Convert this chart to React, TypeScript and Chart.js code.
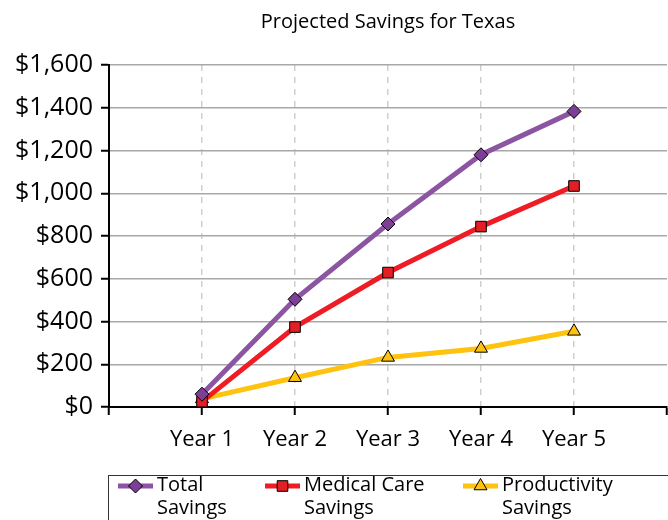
import React, { useEffect, useRef } from 'react';
import { Chart, registerables } from 'chart.js';

Chart.register(...registerables);

const chartTitle = 'Projected Savings for Texas';
const years = ['Year 1', 'Year 2', 'Year 3', 'Year 4', 'Year 5'];
const totalSavings = [60, 504, 856, 1180, 1383];
const medicalSavings = [25, 374, 629, 844, 1034];
const productivitySavings = [38, 137, 232, 274, 354];
const seriesLabels = [
  ['Total', 'Savings'],
  ['Medical Care', 'Savings'],
  ['Productivity', 'Savings'],
];
const yMin = 0;
const yMax = 1600;
const yStep = 200;

const FONT = '"Open Sans", sans-serif';

const categories = ['', ...years, ''];
const pad = (arr: number[]) => [null, ...arr, null];

function drawMarker(ctx: CanvasRenderingContext2D, style: string, x: number, y: number, r: number) {
  ctx.beginPath();
  if (style === 'rectRot') {
    ctx.moveTo(x, y - r);
    ctx.lineTo(x + r, y);
    ctx.lineTo(x, y + r);
    ctx.lineTo(x - r, y);
    ctx.closePath();
  } else if (style === 'rect') {
    const s = r * Math.SQRT1_2;
    ctx.rect(x - s, y - s, 2 * s, 2 * s);
  } else {
    ctx.moveTo(x, y - r);
    ctx.lineTo(x + r * 0.866, y + r * 0.5);
    ctx.lineTo(x - r * 0.866, y + r * 0.5);
    ctx.closePath();
  }
  ctx.fill();
  ctx.stroke();
}

const titlePlugin = {
  id: 'customTitle',
  afterDraw(chart: any) {
    const { ctx, chartArea } = chart;
    ctx.save();
    ctx.font = `20px ${FONT}`;
    ctx.fillStyle = '#000';
    ctx.textAlign = 'center';
    ctx.textBaseline = 'middle';
    ctx.fillText(chartTitle, (chartArea.left + chartArea.right) / 2, 22);
    ctx.restore();
  },
};

const legendPlugin = {
  id: 'customLegend',
  afterDraw(chart: any) {
    const { ctx, chartArea } = chart;
    const boxLeft = chartArea.left - 0.5;
    const boxTop = 475.5;
    ctx.save();
    ctx.strokeStyle = '#333';
    ctx.lineWidth = 1;
    ctx.strokeRect(boxLeft, boxTop, 700, 100);
    const itemX = [118, 265, 463];
    chart.data.datasets.forEach((ds: any, i: number) => {
      const x0 = itemX[i];
      const yLine = 486;
      ctx.strokeStyle = ds.borderColor;
      ctx.lineWidth = 5;
      ctx.beginPath();
      ctx.moveTo(x0, yLine);
      ctx.lineTo(x0 + 35, yLine);
      ctx.stroke();
      ctx.fillStyle = ds.pointBackgroundColor;
      ctx.strokeStyle = '#000';
      ctx.lineWidth = 1;
      drawMarker(ctx, ds.pointStyle, x0 + 17.5, yLine, ds.pointRadius);
      ctx.fillStyle = '#000';
      ctx.font = `20px ${FONT}`;
      ctx.textAlign = 'left';
      ctx.textBaseline = 'middle';
      const lines = seriesLabels[i];
      lines.forEach((t, j) => ctx.fillText(t, x0 + 39, 485 + j * 23));
    });
    ctx.restore();
  },
};

export default function App() {
  const ref = useRef<HTMLCanvasElement>(null);
  useEffect(() => {
    if (!ref.current) return;
    const chart = new Chart(ref.current, {
      type: 'line',
      data: {
        labels: categories,
        datasets: [
          {
            label: seriesLabels[0].join(' '),
            data: pad(totalSavings),
            borderColor: '#8B55A2',
            backgroundColor: '#8B55A2',
            pointBackgroundColor: '#7D3F96',
            pointBorderColor: '#000',
            pointBorderWidth: 1,
            pointStyle: 'rectRot',
            pointRadius: 7,
            borderWidth: 5,
            tension: 0,
          },
          {
            label: seriesLabels[1].join(' '),
            data: pad(medicalSavings),
            borderColor: '#EE1C25',
            backgroundColor: '#EE1C25',
            pointBackgroundColor: '#E31E24',
            pointBorderColor: '#000',
            pointBorderWidth: 1,
            pointStyle: 'rect',
            pointRadius: 7.5,
            borderWidth: 5,
            tension: 0,
          },
          {
            label: seriesLabels[2].join(' '),
            data: pad(productivitySavings),
            borderColor: '#FFC20E',
            backgroundColor: '#FFC20E',
            pointBackgroundColor: '#FFC20E',
            pointBorderColor: '#000',
            pointBorderWidth: 1,
            pointStyle: 'triangle',
            pointRadius: 7.5,
            borderWidth: 5,
            tension: 0,
          },
        ] as any,
      },
      options: {
        animation: false,
        responsive: false,
        layout: { autoPadding: false, padding: { top: 65, right: 1, left: 0, bottom: 0 } },
        plugins: {
          legend: { display: false },
          title: { display: false },
          tooltip: { enabled: false },
        },
        scales: {
          x: {
            type: 'category',
            offset: false,
            grid: {
              color: (c: any) => (c.index === 0 || c.index === categories.length - 1 ? 'rgba(0,0,0,0)' : '#cfcfcf'),
              lineWidth: 1.5,
              tickColor: '#000',
              tickLength: 8,
              tickWidth: 2,
            },
            border: { color: '#000', width: 2, dash: [6, 6] },
            ticks: {
              font: { family: FONT, size: 22 },
              color: '#000',
              padding: 12,
              maxRotation: 0,
              autoSkip: false,
            },
            afterFit: (s: any) => {
              s.height = 113;
              s.paddingLeft = 0;
              s.paddingRight = 0;
            },
          },
          y: {
            min: yMin,
            max: yMax,
            grid: {
              color: '#a8a8a8',
              lineWidth: 1.5,
              tickColor: '#000',
              tickLength: 8,
              tickWidth: 2,
            },
            border: { color: '#000', width: 2 },
            ticks: {
              stepSize: yStep,
              font: { family: FONT, size: 25 },
              color: '#000',
              padding: 8,
              callback: (v: any) => '$' + Number(v).toLocaleString('en-US'),
            },
            afterFit: (s: any) => {
              s.width = 109;
            },
          },
        },
      } as any,
      plugins: [titlePlugin, legendPlugin],
    });
    return () => chart.destroy();
  }, []);
  return (
    <div style={{ position: 'absolute', left: 0, top: 0, width: 668, height: 520 }}>
      <canvas ref={ref} width={668} height={520} />
    </div>
  );
}
